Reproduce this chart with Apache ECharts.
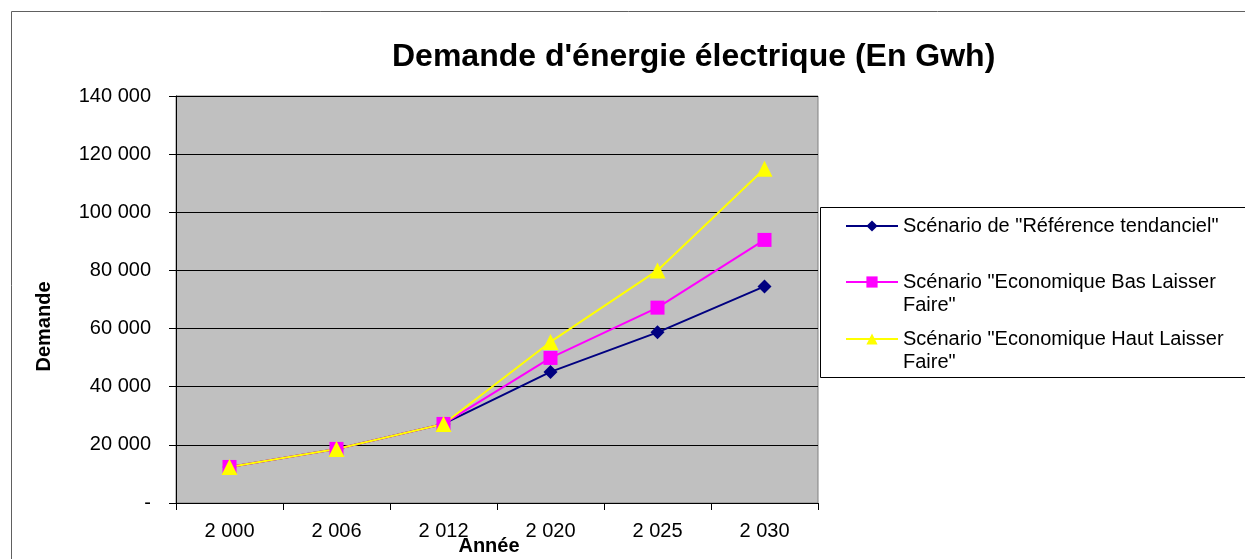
<!DOCTYPE html>
<html>
<head>
<meta charset="utf-8">
<script src="https://cdn.jsdelivr.net/npm/echarts@6/dist/echarts.min.js"></script>
<style>
html,body{margin:0;padding:0;background:#fff;}
#c{width:1245px;height:559px;}
</style>
</head>
<body>
<div id="c"></div>
<script>
const categories = ['2 000', '2 006', '2 012', '2 020', '2 025', '2 030'];
const seriesNames = [
  'Scénario de "Référence tendanciel"',
  'Scénario "Economique Bas Laisser\nFaire"',
  'Scénario "Economique Haut Laisser\nFaire"'
];
const refValues  = [12400, 18600, 27200, 45100, 58700, 74500];
const basValues  = [12400, 18600, 27200, 49900, 67200, 90500];
const hautValues = [12400, 18600, 27200, 55400, 80000, 115000];
const yTickLabels = ['-', '20 000', '40 000', '60 000', '80 000', '100 000', '120 000', '140 000'];

const FONT = '"Liberation Sans", Arial, sans-serif';
const chart = echarts.init(document.getElementById('c'), null, {renderer: 'canvas'});

function legendFor(i, top, multi) {
  return {
    data: [seriesNames[i]],
    orient: 'vertical',
    left: 845,
    top: top,
    padding: 0,
    itemWidth: 52,
    itemHeight: 14,
    selectedMode: false,
    formatter: multi ? function (n) { return '\n' + n; } : '{name}',
    textStyle: {fontFamily: FONT, fontSize: 20, color: '#000', lineHeight: 23}
  };
}

chart.setOption({
  animation: false,
  backgroundColor: '#fff',
  title: {
    text: "Demande d'énergie électrique (En Gwh)",
    left: 392,
    top: 41,
    padding: 0,
    textStyle: {fontFamily: FONT, fontSize: 32, fontWeight: 'bold', color: '#000'}
  },
  graphic: [
    {type: 'rect', shape: {x: 11.5, y: 11.5, width: 1400, height: 700},
     style: {fill: 'none', stroke: '#606060', lineWidth: 1}, silent: true, z: -1},
    {type: 'rect', shape: {x: 820.5, y: 207.5, width: 600, height: 170},
     style: {fill: '#fff', stroke: '#000', lineWidth: 1}, silent: true, z: 0}
  ],
  legend: [
    legendFor(0, 214.5, false),
    legendFor(1, 247.5, true),
    legendFor(2, 304.5, true)
  ],
  grid: {
    left: 176, right: 427, top: 96, bottom: 56,
    outerBoundsMode: 'none',
    containLabel: false,
    show: true, backgroundColor: '#c0c0c0', borderColor: '#808080', borderWidth: 1
  },
  xAxis: {
    type: 'category',
    data: categories,
    boundaryGap: true,
    name: 'Année',
    nameLocation: 'middle',
    nameGap: 33,
    nameMoveOverlap: false,
    nameTextStyle: {fontFamily: FONT, fontSize: 20, fontWeight: 'bold', color: '#000', padding: [0, 16, 0, 0]},
    axisLine: {show: true, lineStyle: {color: '#000', width: 1}},
    axisTick: {show: true, length: 7, lineStyle: {color: '#000'}},
    axisLabel: {fontFamily: FONT, fontSize: 20, color: '#000', margin: 18},
    splitLine: {show: false}
  },
  yAxis: {
    type: 'value',
    min: 0, max: 140000, interval: 20000,
    name: 'Demande',
    nameLocation: 'middle',
    nameGap: 122,
    nameMoveOverlap: false,
    nameTextStyle: {fontFamily: FONT, fontSize: 20, fontWeight: 'bold', color: '#000', padding: [0, 54, 0, 0]},
    axisLine: {show: true, lineStyle: {color: '#000', width: 1}},
    axisTick: {show: true, length: 7, lineStyle: {color: '#000'}},
    axisLabel: {
      fontFamily: FONT, fontSize: 20, color: '#000', margin: 25,
      formatter: function (v) { return yTickLabels[Math.round(v / 20000)]; }
    },
    splitLine: {show: true, lineStyle: {color: '#000', width: 1}}
  },
  series: [
    {name: seriesNames[0], type: 'line', data: refValues,
     symbol: 'diamond', symbolSize: 14, showAllSymbol: true,
     lineStyle: {color: '#000080', width: 2}, itemStyle: {color: '#000080'}},
    {name: seriesNames[1], type: 'line', data: basValues,
     symbol: 'rect', symbolSize: 14, showAllSymbol: true,
     lineStyle: {color: '#ff00ff', width: 2}, itemStyle: {color: '#ff00ff'}},
    {name: seriesNames[2], type: 'line', data: hautValues,
     symbol: 'triangle', symbolSize: 16, showAllSymbol: true,
     lineStyle: {color: '#ffff00', width: 2}, itemStyle: {color: '#ffff00'}}
  ]
});
</script>
</body>
</html>
